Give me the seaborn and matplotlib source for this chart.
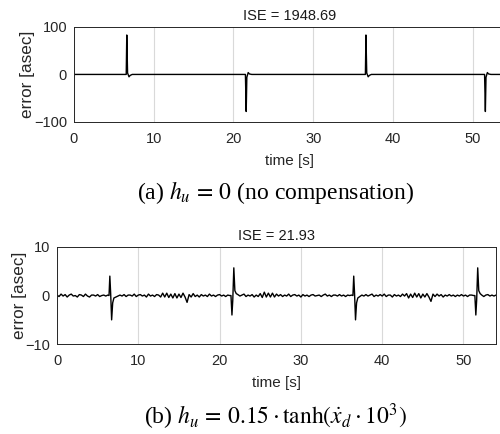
import numpy as np
import pandas as pd
import seaborn as sns
import matplotlib.pyplot as plt

# ---- data ----
# (a) no compensation: flat with large spikes at velocity reversals
top_time = [0, 6.55, 6.62, 6.72, 6.9, 7.05, 7.3,
            21.5, 21.6, 21.68, 21.85, 22.0, 22.3,
            36.55, 36.62, 36.72, 36.9, 37.05, 37.3,
            51.5, 51.6, 51.68, 51.85, 52.0, 52.3, 54.5]
top_error = [0, 0, 83, 3, -5, -2, 0,
             0, -78, -6, 4, 1, 0,
             0, 83, 3, -5, -2, 0,
             0, -78, -6, 4, 1, 0, 0]

# (b) compensated: small noise band plus small spikes
seg_a = [0.1, -0.2, 0.3, -0.1, 0.2, -0.3, 0.1, 0.3, -0.1, 0.0, -0.3, 0.2, 0.1,
         -0.2, 0.3, -0.1, -0.3, 0.1, 0.1, -0.1, 0.2, -0.2, 0.0, 0.1, -0.1, 0.1]
seg_b = [-0.3, -0.1, 0.1, -0.1, 0.2, -0.2, 0.1, 0.1, -0.1, 0.3,
         -0.2, 0.1, 0.2, -0.1, 0.1, -0.3, 0.3, -0.1, 0.1, -0.2,
         0.2, 0.1, -0.3, 0.5, -0.3, 0.5, -0.4, 0.3, -0.5, 0.4,
         -0.5, 0.3, -0.4, 0.5, -0.3, -1.4, 0.2, -0.3, 0.4, -0.2,
         0.1, -0.3, 0.2, -0.1, 0.1, -0.2, 0.3, -0.1, 0.1, -0.2,
         0.1, 0.2, -0.1, 0.1, -0.2, 0.1, 0.0]
seg_c = [0.2, -0.1, 0.1, 0.3, -0.2, 0.1, -0.1, 0.2, -0.3, 0.1,
         -0.2, 0.4, -0.4, 0.7, -0.3, 0.5, -0.3, 0.5, -0.3, 0.3,
         -0.1, 0.2, -0.2, 0.1, -0.1, 0.3, -0.2, 0.1, 0.2, -0.1,
         0.1, -0.3, 0.2, -0.1, 0.1, -0.2, 0.1, 0.2, -0.1, 0.0,
         0.1, -0.2, 0.1, 0.3, -0.1, 0.1, -0.2, 0.1, 0.1, -0.1,
         0.2, -0.1, 0.1, -0.2, 0.1, 0.0, 0.1]
seg_d = [-0.2, 0.1, -0.1, 0.2, -0.1, 0.1, 0.3, -0.2, 0.1, -0.1,
         0.2, -0.1, 0.3, -0.2, 0.1, 0.1, -0.3, 0.2, -0.1, 0.1,
         -0.2, 0.3, -0.1, 0.4, -0.5, 0.3, -0.4, 0.5, -0.3, 0.4,
         -0.5, 0.3, -0.3, 0.4, -0.3, -1.2, 0.3, -0.2, 0.3, -0.1,
         0.2, -0.3, 0.1, -0.1, 0.2, -0.1, 0.1, -0.2, 0.1, -0.1,
         0.2, -0.1, 0.1, -0.2, 0.1, 0.1, 0.0]
seg_e = [0.1, -0.2, 0.1, 0.2, -0.1, 0.1, -0.1, 0.1]

spike_up_t = [6.4, 6.5, 6.6, 6.72, 6.85, 7.0]
spike_up_e = [0, 4.0, 0.5, -5.0, -1.5, -0.5]
spike_dn_t = [21.4, 21.52, 21.62, 21.75, 21.88, 22.05]
spike_dn_e = [0, -4.0, -1.0, 5.7, 1.0, 0.4]
spike_up2_t = [36.4, 36.5, 36.6, 36.72, 36.85, 37.0]
spike_dn2_t = [51.4, 51.52, 51.62, 51.75, 51.88, 52.05]

bot_time = np.concatenate([
    np.arange(0, 6.26, 0.25), spike_up_t,
    np.arange(7.25, 21.26, 0.25), spike_dn_t,
    np.arange(22.25, 36.26, 0.25), spike_up2_t,
    np.arange(37.25, 51.26, 0.25), spike_dn2_t,
    np.arange(52.25, 54.01, 0.25)])
bot_error = np.concatenate([seg_a, spike_up_e, seg_b, spike_dn_e, seg_c,
                            spike_up_e, seg_d, spike_dn_e, seg_e])

df_top = pd.DataFrame({"time": top_time, "error": top_error})
df_bot = pd.DataFrame({"time": bot_time, "error": bot_error})

# ---- style ----
sns.set_theme(style="white")
plt.rcParams['font.family'] = ['Liberation Sans', 'DejaVu Sans']
plt.rcParams['mathtext.fontset'] = 'stix'

fig = plt.figure(figsize=(5, 4.34), dpi=100)
ax1 = fig.add_axes([0.148, 0.719, 0.861, 0.219])
ax2 = fig.add_axes([0.114, 0.207, 0.878, 0.224])


def style_axis(ax, ylim, yticks, title):
    ax.set_xlim(0, 54)
    ax.set_ylim(*ylim)
    ax.set_xticks([0, 10, 20, 30, 40, 50])
    ax.set_yticks(yticks)
    ax.xaxis.grid(True, color='#d9d9d9', lw=0.8)
    ax.set_axisbelow(True)
    ax.tick_params(direction='in', length=3, width=0.6, labelsize=10.5,
                   colors='#262626', top=False, right=False)
    ax.tick_params(axis='x', pad=7)
    ax.tick_params(axis='y', pad=5)
    for s in ax.spines.values():
        s.set_color('#262626')
        s.set_linewidth(0.7)
    ax.set_title(title, fontsize=10.5, pad=5, color='#1a1a1a')
    ax.set_xlabel('time [s]', fontsize=11, color='#262626', labelpad=6)
    ax.set_ylabel('error [asec]', fontsize=12.3, color='#262626', labelpad=-1)


sns.lineplot(data=df_top, x="time", y="error", ax=ax1, color='black',
             lw=1.0, estimator=None, sort=False)
style_axis(ax1, (-100, 100), [-100, 0, 100], 'ISE = 1948.69')

sns.lineplot(data=df_bot, x="time", y="error", ax=ax2, color='black',
             lw=1.0, estimator=None, sort=False)
style_axis(ax2, (-10, 10), [-10, 0, 10], 'ISE = 21.93')

cap_font = dict(family='Liberation Serif', fontsize=17, ha='center',
                va='center', color='black')
fig.text(0.552, 1 - 192 / 434, r'(a) $h_u\,=\,0$ (no compensation)', **cap_font)
fig.text(0.551, 1 - 417 / 434,
         r'(b) $h_u\,=\,0.15\cdot\tanh(\dot{x}_d\cdot10^3)$', **cap_font)

fig.savefig('out.png', dpi=100)
